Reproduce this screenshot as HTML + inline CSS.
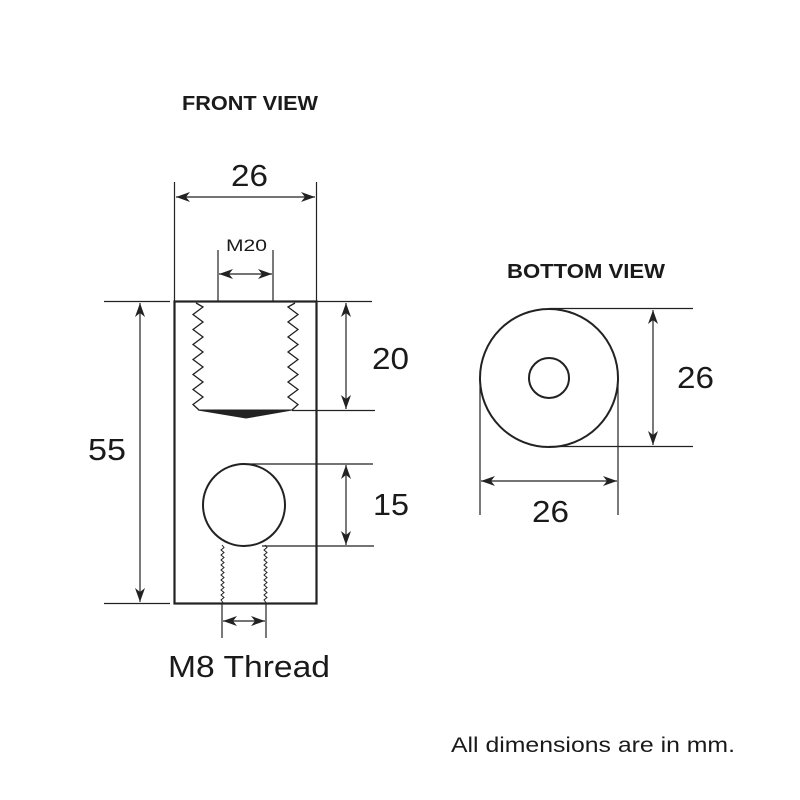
<!DOCTYPE html>
<html><head><meta charset="utf-8"><style>
html,body{margin:0;padding:0;background:#fff;}
svg{display:block;}
text{font-family:"Liberation Sans",sans-serif;fill:#1a1a1a;}
</style></head><body>
<svg width="800" height="800" viewBox="0 0 800 800" xmlns="http://www.w3.org/2000/svg">
<defs>
<marker id="a" viewBox="0 0 14 10" refX="14" refY="5" markerWidth="14" markerHeight="10" markerUnits="userSpaceOnUse" orient="auto-start-reverse">
<path d="M0,0 L14,5 L0,10 L4,5 z" fill="#222"/></marker>
</defs>
<g stroke="#222" fill="none">
<rect x="174.5" y="301.5" width="142" height="302" stroke-width="2.2"/>
<polyline stroke-width="1.3" points="196,303 203,307 193,314.5 203,322 193,329.5 203,337 193,344.5 203,352 193,359.5 203,367 193,374.5 203,382 193,389.5 203,397 193,404.5 199,410"/>
<polyline stroke-width="1.3" points="295,303 288,307 298,314.5 288,322 298,329.5 288,337 298,344.5 288,352 298,359.5 288,367 298,374.5 288,382 298,389.5 288,397 298,404.5 292,410"/>
<path d="M198,410 L292,410 L246,418 Z" fill="#222" stroke-width="1"/>
<circle cx="244" cy="505" r="41" stroke-width="2"/>
<path stroke-width="1" d="M222,545 l2,2.5 l-3,2.5 l3,2.5 l-3,2.5 l3,2.5 l-3,2.5 l3,2.5 l-3,2.5 l3,2.5 l-3,2.5 l3,2.5 l-3,2.5 l3,2.5 l-3,2.5 l3,2.5 l-3,2.5 l3,2.5 l-3,2.5 l3,2.5 l-3,2.5 l3,2.5 l-3,2.5 l2,2.5"/>
<path stroke-width="1" d="M265,545 l2,2.5 l-3,2.5 l3,2.5 l-3,2.5 l3,2.5 l-3,2.5 l3,2.5 l-3,2.5 l3,2.5 l-3,2.5 l3,2.5 l-3,2.5 l3,2.5 l-3,2.5 l3,2.5 l-3,2.5 l3,2.5 l-3,2.5 l3,2.5 l-3,2.5 l3,2.5 l-3,2.5 l2,2.5"/>
<g stroke-width="1.2">
<line x1="174.5" y1="182" x2="174.5" y2="301"/><line x1="316.5" y1="182" x2="316.5" y2="301"/>
<line x1="176" y1="197" x2="315" y2="197" marker-start="url(#a)" marker-end="url(#a)"/>
<line x1="218" y1="250" x2="218" y2="301"/><line x1="273" y1="250" x2="273" y2="301"/>
<line x1="219" y1="274" x2="272" y2="274" marker-start="url(#a)" marker-end="url(#a)"/>
<line x1="104" y1="301.5" x2="170" y2="301.5"/><line x1="104" y1="603.5" x2="170" y2="603.5"/>
<line x1="140" y1="303" x2="140" y2="602" marker-start="url(#a)" marker-end="url(#a)"/>
<line x1="317" y1="301.5" x2="372" y2="301.5"/><line x1="292" y1="410.5" x2="375" y2="410.5"/>
<line x1="346" y1="303" x2="346" y2="409" marker-start="url(#a)" marker-end="url(#a)"/>
<line x1="244" y1="464" x2="373" y2="464"/><line x1="262" y1="546" x2="374" y2="546"/>
<line x1="346" y1="465" x2="346" y2="545" marker-start="url(#a)" marker-end="url(#a)"/>
<line x1="222" y1="603" x2="222" y2="638"/><line x1="266" y1="603" x2="266" y2="638"/>
<line x1="223" y1="621" x2="265" y2="621" marker-start="url(#a)" marker-end="url(#a)"/>
</g>
<circle cx="549" cy="378" r="69" stroke-width="2"/>
<circle cx="549" cy="378" r="20" stroke-width="2"/>
<g stroke-width="1.2">
<line x1="549" y1="308.5" x2="693" y2="308.5"/><line x1="549" y1="446.5" x2="693" y2="446.5"/>
<line x1="653" y1="310" x2="653" y2="445" marker-start="url(#a)" marker-end="url(#a)"/>
<line x1="480" y1="378" x2="480" y2="515"/><line x1="618" y1="378" x2="618" y2="515"/>
<line x1="481" y1="481" x2="617" y2="481" marker-start="url(#a)" marker-end="url(#a)"/>
</g>
</g>
<text x="182" y="110" font-size="20" font-weight="bold" textLength="136" lengthAdjust="spacingAndGlyphs">FRONT VIEW</text>
<text x="231" y="186" font-size="31" textLength="37" lengthAdjust="spacingAndGlyphs">26</text>
<text x="226" y="251" font-size="17" textLength="41" lengthAdjust="spacingAndGlyphs">M20</text>
<text x="88" y="460" font-size="31" textLength="38" lengthAdjust="spacingAndGlyphs">55</text>
<text x="372" y="369" font-size="31" textLength="37" lengthAdjust="spacingAndGlyphs">20</text>
<text x="373" y="515" font-size="31" textLength="36" lengthAdjust="spacingAndGlyphs">15</text>
<text x="168" y="677" font-size="31" textLength="162" lengthAdjust="spacingAndGlyphs">M8 Thread</text>
<text x="507" y="278" font-size="20" font-weight="bold" textLength="158" lengthAdjust="spacingAndGlyphs">BOTTOM VIEW</text>
<text x="677" y="388" font-size="31" textLength="37" lengthAdjust="spacingAndGlyphs">26</text>
<text x="532" y="522" font-size="31" textLength="37" lengthAdjust="spacingAndGlyphs">26</text>
<text x="451" y="752" font-size="21" textLength="284" lengthAdjust="spacingAndGlyphs">All dimensions are in mm.</text>
</svg>
</body></html>
